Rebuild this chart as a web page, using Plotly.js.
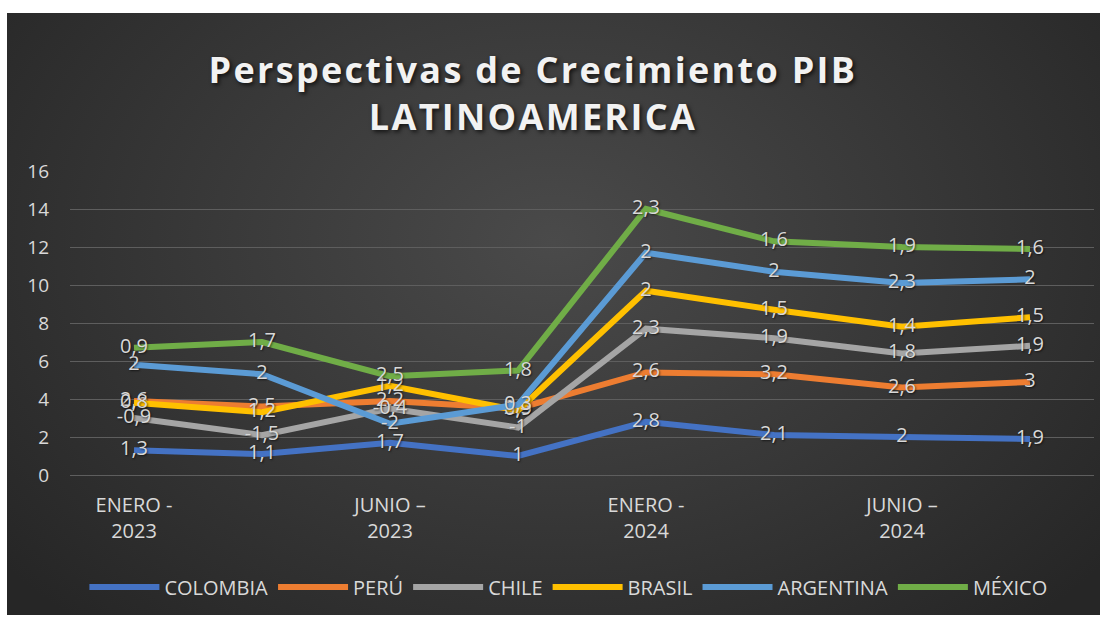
<!DOCTYPE html>
<html>
<head>
<meta charset="utf-8">
<script src="https://cdn.plot.ly/plotly-3.0.1.min.js"></script>
<style>
  html, body { margin: 0; padding: 0; background: #ffffff; }
  #wrap { position: relative; width: 1108px; height: 619px; overflow: hidden; }
  #bg { position: absolute; left: 7px; top: 13px; width: 1093px; height: 602px;
        background: radial-gradient(ellipse 65% 85% at 50% 38%, #4a4a4a 0%, #3a3a3a 45%, #262626 100%); }
  #chart { position: absolute; left: 0; top: 0; width: 1108px; height: 619px; }
  .gtitle { letter-spacing: 2.3px; }
</style>
</head>
<body>
<div id="wrap"><div id="bg"></div><div id="chart"></div></div>
<script>
// Periods (8 points); only every other one carries a visible tick label, as in the reference
var periodIndex = [0, 1, 2, 3, 4, 5, 6, 7];
var tickPositions = [0, 2, 4, 6];
var tickLabels = ["ENERO -<br>2023", "JUNIO –<br>2023", "ENERO -<br>2024", "JUNIO –<br>2024"];

var seriesNames = ["COLOMBIA", "PERÚ", "CHILE", "BRASIL", "ARGENTINA", "MÉXICO"];
var colombia  = [1.3, 1.1, 1.7, 1, 2.8, 2.1, 2, 1.9];
var peru      = [2.6, 2.5, 2.2, 2.5, 2.6, 3.2, 2.6, 3];
var chile     = [-0.9, -1.5, -0.4, -1, 2.3, 1.9, 1.8, 1.9];
var brasil    = [0.8, 1.2, 1.2, 0.9, 2, 1.5, 1.4, 1.5];
var argentina = [2, 2, -2, 0.3, 2, 2, 2.3, 2];
var mexico    = [0.9, 1.7, 2.5, 1.8, 2.3, 1.6, 1.9, 1.6];

var seriesValues = [colombia, peru, chile, brasil, argentina, mexico];
var colors = ["#4472C4", "#ED7D31", "#A5A5A5", "#FFC000", "#5B9BD5", "#70AD47"];

var FONT = "'Open Sans', 'Noto Sans', sans-serif";
var TXT = "#d9d9d9";

function fmt(v) { return String(v).replace('.', ','); }

var traces = seriesValues.map(function (vals, i) {
  return {
    type: 'scatter',
    x: periodIndex,
    y: vals,
    name: seriesNames[i],
    stackgroup: 'pib',
    fill: 'none',
    mode: 'lines+text',
    line: { color: colors[i], width: 6, shape: 'linear' },
    text: vals.map(fmt),
    textposition: 'middle center',
    textfont: { family: FONT, size: 20, color: TXT, shadow: '1px 1px 2px rgba(0,0,0,0.6)' },
    hoverinfo: 'skip',
    cliponaxis: false
  };
});

var layout = {
  width: 1108,
  height: 619,
  paper_bgcolor: 'rgba(0,0,0,0)',
  plot_bgcolor: 'rgba(0,0,0,0)',
  margin: { l: 70, r: 14, t: 171, b: 144 },
  font: { family: FONT, color: TXT },
  title: {
    text: '<b>Perspectivas de Crecimiento PIB<br>LATINOAMERICA</b>',
    font: { family: FONT, size: 36, color: '#f2f2f2', shadow: '2px 2px 4px rgba(0,0,0,0.7)' },
    x: 0.481, xref: 'container', xanchor: 'center',
    y: 1 - 83 / 619, yref: 'container', yanchor: 'middle'
  },
  xaxis: {
    range: [-0.5, 7.5],
    tickmode: 'array',
    tickvals: tickPositions,
    ticktext: tickLabels,
    showgrid: false,
    zeroline: false,
    showline: false,
    ticks: '',
    tickfont: { family: FONT, size: 20, color: TXT },
    ticklabelstandoff: 16,
    fixedrange: true
  },
  yaxis: {
    range: [0, 16],
    tickmode: 'linear',
    tick0: 0,
    dtick: 2,
    showgrid: true,
    gridcolor: '#5e5e5e',
    gridwidth: 1,
    zeroline: true,
    zerolinecolor: '#5e5e5e',
    zerolinewidth: 1,
    showline: false,
    ticks: '',
    tickfont: { family: FONT, size: 19, color: TXT },
    ticklabelstandoff: 20,
    fixedrange: true
  },
  showlegend: true,
  legend: {
    orientation: 'h',
    x: 0.513, xref: 'container', xanchor: 'center',
    y: 1 - 587 / 619, yref: 'container', yanchor: 'middle',
    font: { family: FONT, size: 20, color: TXT },
    itemwidth: 70,
    traceorder: 'normal',
    bgcolor: 'rgba(0,0,0,0)'
  }
};

Plotly.newPlot('chart', traces, layout, { displayModeBar: false, staticPlot: true });
</script>
</body>
</html>
